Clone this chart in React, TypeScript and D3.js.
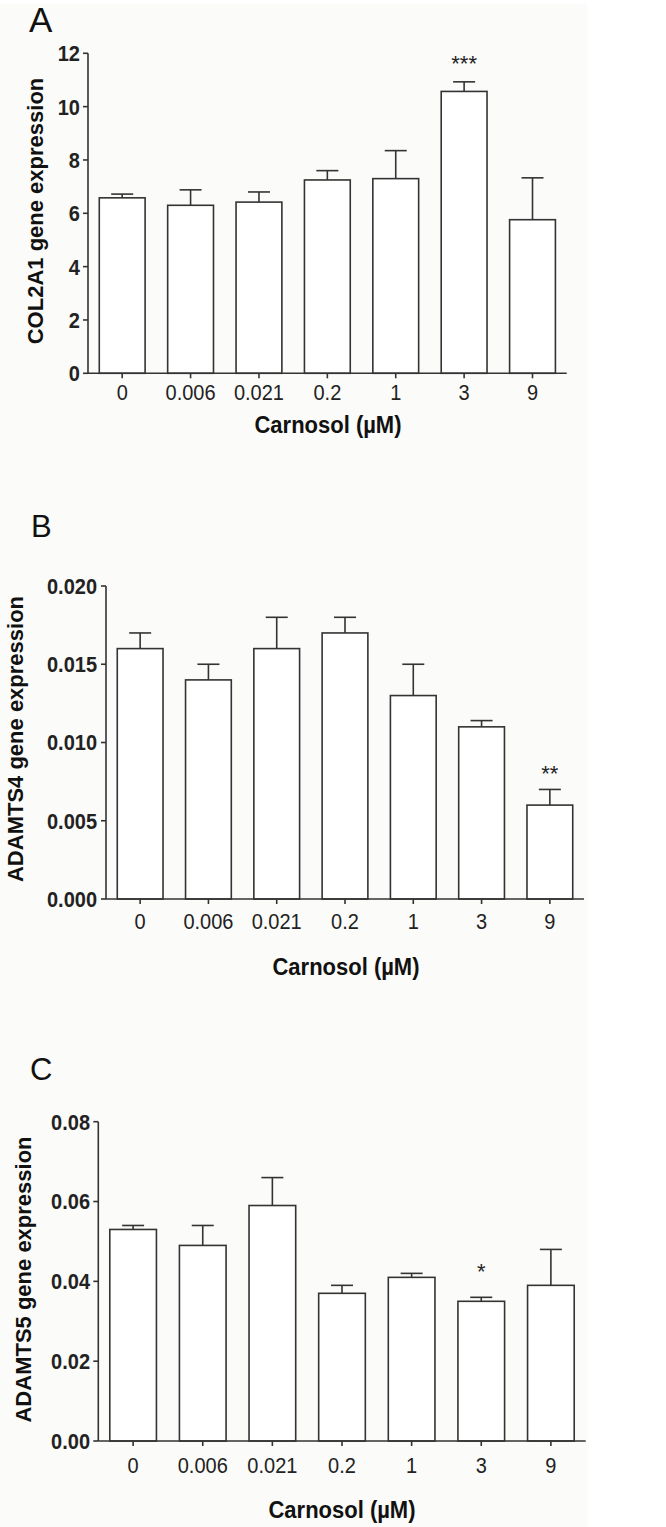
import React from "react";
import * as d3 from "d3";

const categories = ["0", "0.006", "0.021", "0.2", "1", "3", "9"];

const col2a1Means = [6.58, 6.3, 6.42, 7.25, 7.3, 10.57, 5.76];
const col2a1Errors = [0.14, 0.58, 0.38, 0.35, 1.05, 0.36, 1.57];
const col2a1Ticks = [0, 2, 4, 6, 8, 10, 12];
const col2a1Stars = ["", "", "", "", "", "***", ""];

const adamts4Means = [0.016, 0.014, 0.016, 0.017, 0.013, 0.011, 0.006];
const adamts4Errors = [0.001, 0.001, 0.002, 0.001, 0.002, 0.0004, 0.001];
const adamts4Ticks = [0, 0.005, 0.01, 0.015, 0.02];
const adamts4Stars = ["", "", "", "", "", "", "**"];

const adamts5Means = [0.053, 0.049, 0.059, 0.037, 0.041, 0.035, 0.039];
const adamts5Errors = [0.001, 0.005, 0.007, 0.002, 0.001, 0.001, 0.009];
const adamts5Ticks = [0, 0.02, 0.04, 0.06, 0.08];
const adamts5Stars = ["", "", "", "", "", "*", ""];

const FONT = "'Liberation Sans', Arial, Helvetica, sans-serif";
const INK = "#333";
const SY = 1.1;

type PanelProps = {
  letter: string;
  letterX: number;
  letterY: number;
  letterSize: number;
  means: number[];
  errors: number[];
  ticks: number[];
  stars: string[];
  yMax: number;
  tickFmt: (v: number) => string;
  x0: number;
  x1: number;
  yTop: number;
  yBottom: number;
  tickLabelEnd: number;
  xTickBaseline: number;
  yTitle: string;
  yTitleX: number;
  yTitleCenter: number;
  xTitleX: number;
  xTitleY: number;
  starOffset: number;
};

function Panel(p: PanelProps) {
  const x = d3
    .scaleBand<string>()
    .domain(categories)
    .range([p.x0, p.x1])
    .paddingInner(0.33)
    .paddingOuter(0.165);
  const y = d3.scaleLinear().domain([0, p.yMax]).range([p.yBottom, p.yTop]);
  const bw = x.bandwidth();
  const capW = 22;
  return (
    <g>
      <text x={p.letterX} y={p.letterY} fontSize={p.letterSize} fontFamily={FONT} fill="#111">
        {p.letter}
      </text>
      {categories.map((c, i) => {
        const bx = x(c) as number;
        const top = y(p.means[i]);
        const eTop = y(p.means[i] + p.errors[i]);
        const cx = bx + bw / 2;
        return (
          <g key={c}>
            <line x1={cx} x2={cx} y1={top} y2={eTop} stroke={INK} strokeWidth={1.6} />
            <line x1={cx - capW / 2} x2={cx + capW / 2} y1={eTop} y2={eTop} stroke={INK} strokeWidth={1.6} />
            <rect x={bx} y={top} width={bw} height={p.yBottom - top} fill="#fff" stroke={INK} strokeWidth={1.6} />
            {p.stars[i] ? (
              <text
                x={cx}
                y={eTop - p.starOffset}
                textAnchor="middle"
                fontSize={22}
                fontFamily={FONT}
                fill="#222"
              >
                {p.stars[i]}
              </text>
            ) : null}
          </g>
        );
      })}
      <line x1={p.x0} x2={p.x0} y1={y(p.yMax)} y2={p.yBottom} stroke={INK} strokeWidth={1.6} />
      {p.ticks.map((t) => (
        <g key={t}>
          <line x1={p.x0 - 5} x2={p.x0} y1={y(t)} y2={y(t)} stroke={INK} strokeWidth={1.6} />
          <text
            transform={`translate(${p.tickLabelEnd},${y(t) + 7.2 * SY}) scale(1,${SY})`}
            textAnchor="end"
            fontSize={20}
            fontWeight="bold"
            fontFamily={FONT}
            fill="#222"
          >
            {p.tickFmt(t)}
          </text>
        </g>
      ))}
      <line x1={p.x0} x2={p.x1} y1={p.yBottom} y2={p.yBottom} stroke={INK} strokeWidth={1.6} />
      {categories.map((c) => {
        const cx = (x(c) as number) + bw / 2;
        return (
          <g key={"xt" + c}>
            <line x1={cx} x2={cx} y1={p.yBottom} y2={p.yBottom + 5} stroke={INK} strokeWidth={1.6} />
            <text
              transform={`translate(${cx},${p.xTickBaseline}) scale(1,${SY})`}
              textAnchor="middle"
              fontSize={20}
              fontFamily={FONT}
              fill="#222"
            >
              {c}
            </text>
          </g>
        );
      })}
      <text
        transform={`translate(${p.yTitleX},${p.yTitleCenter}) rotate(-90)`}
        textAnchor="middle"
        fontSize={22}
        fontWeight="bold"
        fontFamily={FONT}
        fill="#111"
      >
        {p.yTitle}
      </text>
      <text
        transform={`translate(${p.xTitleX},${p.xTitleY}) scale(1,${SY})`}
        textAnchor="middle"
        fontSize={22}
        fontWeight="bold"
        fontFamily={FONT}
        fill="#111"
      >
        Carnosol (µM)
      </text>
    </g>
  );
}

export default function App() {
  return (
    <svg
      width={666}
      height={1527}
      style={{ position: "absolute", left: 0, top: 0, background: "#fff" }}
    >
      <rect x={0} y={4} width={587} height={1523} fill="#fbfbf9" />
      <Panel
        letter="A"
        letterX={29}
        letterY={32}
        letterSize={35}
        means={col2a1Means}
        errors={col2a1Errors}
        ticks={col2a1Ticks}
        stars={col2a1Stars}
        yMax={12}
        tickFmt={(v) => d3.format("d")(v)}
        x0={88}
        x1={566.7}
        yTop={53.3}
        yBottom={373.3}
        tickLabelEnd={80}
        xTickBaseline={400}
        yTitle="COL2A1 gene expression"
        yTitleX={43}
        yTitleCenter={211}
        xTitleX={328}
        xTitleY={433}
        starOffset={11}
      />
      <Panel
        letter="B"
        letterX={31}
        letterY={537}
        letterSize={31}
        means={adamts4Means}
        errors={adamts4Errors}
        ticks={adamts4Ticks}
        stars={adamts4Stars}
        yMax={0.02}
        tickFmt={(v) => d3.format(".3f")(v)}
        x0={106}
        x1={584}
        yTop={586}
        yBottom={899}
        tickLabelEnd={97}
        xTickBaseline={929}
        yTitle="ADAMTS4 gene expression"
        yTitleX={23}
        yTitleCenter={739}
        xTitleX={346}
        xTitleY={975}
        starOffset={8}
      />
      <Panel
        letter="C"
        letterX={30}
        letterY={1080}
        letterSize={31}
        means={adamts5Means}
        errors={adamts5Errors}
        ticks={adamts5Ticks}
        stars={adamts5Stars}
        yMax={0.08}
        tickFmt={(v) => d3.format(".2f")(v)}
        x0={98.3}
        x1={585.7}
        yTop={1121.7}
        yBottom={1441}
        tickLabelEnd={90}
        xTickBaseline={1473}
        yTitle="ADAMTS5 gene expression"
        yTitleX={31}
        yTitleCenter={1279.5}
        xTitleX={342}
        xTitleY={1518}
        starOffset={18}
      />
    </svg>
  );
}
